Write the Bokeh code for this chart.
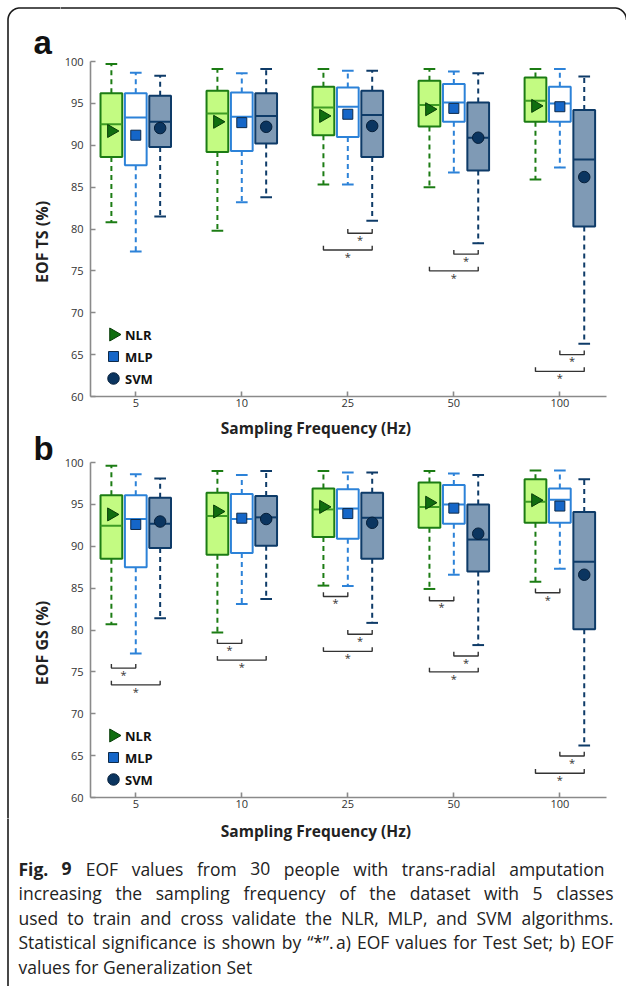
import numpy as np
from bokeh.plotting import figure
from bokeh.models import Range1d, FixedTicker, ColumnDataSource
from bokeh.layouts import column, row
from bokeh.embed import file_html
from bokeh.resources import INLINE
from bokeh.core.properties import value

# ---------------- data ----------------
FREQ_LABELS = ["5", "10", "25", "50", "100"]          # sampling frequency (Hz)
MODELS = ["NLR", "MLP", "SVM"]

# Panel a: EOF Test Set (%), one value per sampling frequency
TS_NLR = dict(hi=[99.7, 99.1, 99.1, 99.1, 99.1], q3=[96.2, 96.5, 97.0, 97.7, 98.1],
              med=[92.5, 93.8, 94.5, 94.8, 95.3], q1=[88.6, 89.2, 91.2, 92.25, 92.8],
              lo=[80.8, 79.8, 85.3, 85.0, 85.9], mean=[91.7, 92.8, 93.5, 94.3, 94.7])
TS_MLP = dict(hi=[98.65, 98.6, 98.9, 98.8, 99.1], q3=[96.2, 96.3, 96.9, 97.3, 97.0],
              med=[93.3, 93.4, 94.6, 95.1, 95.0], q1=[87.6, 89.3, 91.0, 92.8, 92.8],
              lo=[77.3, 83.2, 85.3, 86.75, 87.35], mean=[91.2, 92.7, 93.7, 94.4, 94.6])
TS_SVM = dict(hi=[98.3, 99.1, 98.9, 98.6, 98.2], q3=[95.9, 96.2, 96.5, 95.1, 94.2],
              med=[92.8, 93.5, 93.6, 90.9, 88.3], q1=[89.8, 90.2, 88.6, 87.0, 80.3],
              lo=[81.5, 83.8, 81.0, 78.3, 66.3], mean=[92.05, 92.2, 92.3, 90.9, 86.2])

# Panel b: EOF Generalization Set (%)
GS_NLR = dict(hi=[99.6, 99.0, 99.0, 99.0, 99.05], q3=[96.1, 96.4, 96.9, 97.6, 98.0],
              med=[92.45, 93.6, 94.4, 94.7, 95.3], q1=[88.5, 89.0, 91.1, 92.2, 92.8],
              lo=[80.7, 79.7, 85.3, 84.9, 85.75], mean=[93.8, 94.15, 94.7, 95.2, 95.5])
GS_MLP = dict(hi=[98.6, 98.5, 98.8, 98.7, 99.05], q3=[96.1, 96.25, 96.8, 97.3, 96.9],
              med=[93.25, 93.25, 94.5, 95.0, 95.55], q1=[87.5, 89.2, 90.9, 92.7, 92.8],
              lo=[77.2, 83.1, 85.25, 86.6, 87.3], mean=[92.6, 93.35, 93.9, 94.55, 94.8])
GS_SVM = dict(hi=[98.1, 99.0, 98.8, 98.5, 98.0], q3=[95.8, 96.0, 96.4, 95.0, 94.1],
              med=[92.7, 93.45, 93.4, 90.8, 88.15], q1=[89.8, 90.05, 88.5, 87.0, 80.1],
              lo=[81.4, 83.7, 80.85, 78.2, 66.2], mean=[92.95, 93.25, 92.8, 91.5, 86.6])

# significance brackets (frequency, from model, to model, bracket level in %)
TS_SIG_FREQ = ["25", "25", "50", "50", "100", "100"]
TS_SIG_FROM = ["MLP", "NLR", "MLP", "NLR", "MLP", "NLR"]
TS_SIG_TO = ["SVM", "SVM", "SVM", "SVM", "SVM", "SVM"]
TS_SIG_Y = [79.5, 77.5, 77.0, 75.0, 65.0, 63.0]

GS_SIG_FREQ = ["5", "5", "10", "10", "25", "25", "25", "50", "50", "50", "100", "100", "100"]
GS_SIG_FROM = ["NLR", "NLR", "NLR", "NLR", "NLR", "MLP", "NLR", "NLR", "MLP", "NLR", "NLR", "MLP", "NLR"]
GS_SIG_TO = ["MLP", "SVM", "MLP", "SVM", "MLP", "SVM", "SVM", "MLP", "SVM", "SVM", "MLP", "SVM", "SVM"]
GS_SIG_Y = [75.45, 73.45, 78.4, 76.4, 84.0, 79.5, 77.45, 83.5, 76.9, 75.0, 84.45, 64.95, 62.9]

Y_TICKS = [60, 65, 70, 75, 80, 85, 90, 95, 100]
X_LABEL = "Sampling Frequency (Hz)"
Y_LABELS = ["EOF TS (%)", "EOF GS (%)"]
PANEL_LETTERS = ["a", "b"]

CAPTION_BOLD = ["Fig.", "9"]
CAPTION_LINES = [
    "EOF values from 30 people with trans-radial amputation",
    "increasing the sampling frequency of the dataset with 5 classes",
    "used to train and cross validate the NLR, MLP, and SVM algorithms.",
    "Statistical significance is shown by \u201c*\u201d. a) EOF values for Test Set; b) EOF",
    "values for Generalization Set",
]

# ---------------- style / layout ----------------
STYLE = {
    "NLR": dict(fill="#c3fb82", line="#1c7c14", med="#3e9c24", whisk="#1c7c14",
                mfill="#106e10", mline="#073c07", marker="triangle", size=13, angle=-np.pi / 2),
    "MLP": dict(fill="#ffffff", line="#2c82d8", med="#2c82d8", whisk="#2c82d8",
                mfill="#1566c8", mline="#0d2a4a", marker="square", size=10, angle=0.0),
    "SVM": dict(fill="#7f9ab5", line="#0e3b68", med="#0e3b68", whisk="#0e3b68",
                mfill="#0b3560", mline="#061f3a", marker="circle", size=11.5, angle=0.0),
}
OFFSET = {"NLR": -0.23, "MLP": 0.0, "SVM": 0.23}
BOXW = 0.205
CAPW = 0.11
LW = 60                      # left column (letters, y titles, frame line)
MW = 566                     # main column (panels)
TW = LW + MW                 # total width
X0, X1 = 0.573, 5.44
BL = 30                      # panel left border -> frame starts at page x = 90
FRAME_W = 516
FRAME_H = 335
PXX = FRAME_W / (X1 - X0)
PXY = FRAME_H / 40.0
FONT = "Open Sans"
AXIS_GRAY = "#8a8a8a"
TXT = "#222222"
FRAME_COL = "#1a1a1a"

# vertical stack (page pixels)
H_TOP, H_A, H_MID, H_B, H_BOT = 54, 363, 38, 363, 168
Y_A = H_TOP
Y_MID = Y_A + H_A
Y_B = Y_MID + H_MID
Y_BOT = Y_B + H_B
H_ALL = Y_BOT + H_BOT
FRAME_TOP_A = Y_A + 7
FRAME_TOP_B = Y_B + 7

# Open Sans advance widths (units per em = 2048), used to justify the caption
OS_W = {" ": 532, ",": 502, ".": 545, ";": 545, "-": 659, "*": 1130, ")": 606, "(": 606,
        "\u201c": 502, "\u201d": 502, "0": 1171, "3": 1171, "5": 1171, "9": 1171,
        "A": 1296, "E": 1139, "F": 1057, "G": 1491, "L": 1063, "M": 1849, "N": 1544, "O": 1595,
        "P": 1233, "R": 1266, "S": 1124, "T": 1133, "V": 1219,
        "a": 1139, "b": 1255, "c": 975, "d": 1255, "e": 1149, "f": 694, "g": 1122, "h": 1257,
        "i": 518, "j": 518, "k": 1075, "l": 518, "m": 1905, "n": 1257, "o": 1237, "p": 1255,
        "q": 1255, "r": 836, "s": 977, "t": 723, "u": 1257, "v": 1026, "w": 1593, "x": 1073,
        "y": 1028, "z": 977}


def text_w(s, size, bold=False):
    return sum(OS_W.get(c, 1100) for c in s) / 2048 * size * (1.07 if bold else 1.0)


def band(px0, pw, py0, ph):
    """A figure whose frame is its whole canvas, in page-pixel coordinates (y downwards)."""
    b = figure(width=pw, height=ph, x_range=Range1d(px0, px0 + pw), y_range=Range1d(py0 + ph, py0),
               output_backend="svg", toolbar_location=None, min_border=0,
               x_axis_type=None, y_axis_type=None)
    b.outline_line_color = None
    b.xgrid.visible = False
    b.ygrid.visible = False
    return b


def frame_path(b):
    """Rounded page frame (top-left and top-right corners), in page pixels."""
    r, e = 12, 7.5
    t = np.linspace(0, np.pi / 2, 16)
    xs = [e] + list(e + r - r * np.cos(t)) + [TW - r] + list(TW - r + r * np.sin(t))
    ys = [H_ALL + 5] + list(e + r - r * np.sin(t)) + [e] + list(e + r - r * np.cos(t))
    b.line(x=xs, y=ys, line_color=FRAME_COL, line_width=1.6)


def make_panel(series, sig, height, btop):
    bbot = height - btop - FRAME_H
    p = figure(width=MW, height=height, x_range=Range1d(X0, X1), y_range=Range1d(60, 100),
               output_backend="svg", toolbar_location=None,
               min_border_left=BL, min_border_right=MW - BL - FRAME_W,
               min_border_top=btop, min_border_bottom=bbot)
    p.outline_line_color = None
    p.xgrid.visible = False
    p.ygrid.visible = False

    xs = np.arange(1, len(FREQ_LABELS) + 1)
    for m in MODELS:
        d = series[m]
        st = STYLE[m]
        pos = xs + OFFSET[m]
        src = ColumnDataSource(dict(x=pos, bl=pos - BOXW / 2, br=pos + BOXW / 2,
                                    cl=pos - CAPW / 2, cr=pos + CAPW / 2, **d))
        p.segment(x0="x", y0="q3", x1="x", y1="hi", source=src, line_color=st["whisk"],
                  line_width=2, line_dash="5 4")
        p.segment(x0="x", y0="q1", x1="x", y1="lo", source=src, line_color=st["whisk"],
                  line_width=2, line_dash="5 4")
        p.segment(x0="cl", y0="hi", x1="cr", y1="hi", source=src, line_color=st["whisk"], line_width=2)
        p.segment(x0="cl", y0="lo", x1="cr", y1="lo", source=src, line_color=st["whisk"], line_width=2)
        p.vbar(x="x", width=BOXW, bottom="q1", top="q3", source=src, fill_color=st["fill"],
               line_color=st["line"], line_width=2)
        p.segment(x0="bl", y0="med", x1="br", y1="med", source=src, line_color=st["med"], line_width=2)
        p.scatter(x="x", y="mean", source=src, marker=st["marker"], size=st["size"],
                  angle=st["angle"], fill_color=st["mfill"], line_color=st["mline"], line_width=1)

    # significance brackets
    freq, frm, to, ys = sig
    tick = 0.5
    bx, by, sx, sy = [], [], [], []
    for f, a, b, y in zip(freq, frm, to, ys):
        g = FREQ_LABELS.index(f) + 1
        xa, xb = g + OFFSET[a], g + OFFSET[b]
        bx.append([xa, xa, xb, xb])
        by.append([y + tick, y, y, y + tick])
        sx.append((xa + xb) / 2)
        sy.append(y - 0.75)
    p.multi_line(xs=bx, ys=by, line_color="#333333", line_width=1.4)
    p.text(x=sx, y=sy, text=["*"] * len(sx), text_align="center", text_baseline="middle",
           text_font=value(FONT), text_font_size="11px", text_color="#333333")

    # legend (drawn by hand so that the NLR triangle points right like the data markers)
    lx = X0 + 23 / PXX
    for i, m in enumerate(MODELS):
        st = STYLE[m]
        ly = 60 + (18 + 22 * (len(MODELS) - 1 - i)) / PXY
        p.scatter(x=[lx], y=[ly], marker=st["marker"], size=st["size"], angle=st["angle"],
                  fill_color=st["mfill"], line_color=st["mline"], line_width=1)
        p.text(x=[X0 + 34.5 / PXX], y=[ly], text=[m], text_baseline="middle",
               text_font=value(FONT), text_font_style="bold", text_font_size="13px",
               text_color="#111111")

    # axes
    p.xaxis.ticker = FixedTicker(ticks=list(xs))
    p.xaxis.major_label_overrides = {int(i): l for i, l in zip(xs, FREQ_LABELS)}
    p.yaxis.ticker = FixedTicker(ticks=Y_TICKS)
    for ax in (p.xaxis, p.yaxis):
        ax.axis_line_color = AXIS_GRAY
        ax.axis_line_width = 1.6
        ax.major_tick_line_color = AXIS_GRAY
        ax.major_tick_line_width = 1.6
        ax.major_tick_in = 5
        ax.major_tick_out = 0
        ax.minor_tick_line_color = None
        ax.major_label_text_font = FONT
        ax.major_label_text_font_size = "11px"
        ax.major_label_text_color = "#333333"
    p.xaxis.major_label_standoff = 2
    p.yaxis.major_label_standoff = 7
    return p


def xlabel(b, page_y):
    b.text(x=[315.4], y=[page_y], text=[X_LABEL], text_align="center", text_baseline="middle",
           text_font=value(FONT), text_font_style="bold", text_font_size="15.5px", text_color=TXT)


# left column: frame line, panel letters and the y-axis titles
left = band(0, LW, 0, Y_BOT)
frame_path(left)
left.text(x=[33, 33], y=[41.5, 447.5], text=PANEL_LETTERS, text_align="left",
          text_baseline="middle", text_font=value("Liberation Sans"),
          text_font_style="bold", text_font_size="33px", text_color="#111111")
left.text(x=[41, 41], y=[FRAME_TOP_A + FRAME_H / 2 + 13, FRAME_TOP_B + FRAME_H / 2 + 13],
          text=Y_LABELS, angle=np.pi / 2, text_align="center", text_baseline="middle",
          text_font=value(FONT), text_font_style="bold", text_font_size="16px", text_color=TXT)

top = band(LW, MW, 0, H_TOP)
frame_path(top)

pa = make_panel({"NLR": TS_NLR, "MLP": TS_MLP, "SVM": TS_SVM},
                (TS_SIG_FREQ, TS_SIG_FROM, TS_SIG_TO, TS_SIG_Y), H_A, 7)

mid = band(LW, MW, Y_MID, H_MID)
xlabel(mid, 427.5)

pb = make_panel({"NLR": GS_NLR, "MLP": GS_MLP, "SVM": GS_SVM},
                (GS_SIG_FREQ, GS_SIG_FROM, GS_SIG_TO, GS_SIG_Y), H_B, 7)

bot = band(0, TW, Y_BOT, H_BOT)
frame_path(bot)
xlabel(bot, 830)

# caption, justified word by word like the journal layout
CAP_SIZE = 17.5
cap_x0 = 18
cap_right = [604, 613, 613, 613, None]
words_n, wx_n, wy_n, words_b, wx_b, wy_b = [], [], [], [], [], []
for li, line in enumerate(CAPTION_LINES):
    ly = 868 + 24.5 * li
    words = [(w, True) for w in CAPTION_BOLD] if li == 0 else []
    words += [(w, False) for w in line.split(" ")]
    widths = [text_w(w, CAP_SIZE, bold) for w, bold in words]
    if cap_right[li] is None:
        gap = text_w(" ", CAP_SIZE)
    else:
        gap = (cap_right[li] - cap_x0 - sum(widths)) / (len(words) - 1)
    x = cap_x0
    for (w, bold), wd in zip(words, widths):
        if bold:
            words_b.append(w); wx_b.append(x); wy_b.append(ly)
        else:
            words_n.append(w); wx_n.append(x); wy_n.append(ly)
        x += wd + gap

bot.text(x=wx_b, y=wy_b, text=words_b, text_baseline="middle", text_font=value(FONT),
         text_font_style="bold", text_font_size=f"{CAP_SIZE}px", text_color=TXT)
bot.text(x=wx_n, y=wy_n, text=words_n, text_baseline="middle", text_font=value(FONT),
         text_font_size=f"{CAP_SIZE}px", text_color=TXT)

upper = row(column(left), column(column(top), column(pa), column(mid), column(pb)), spacing=0)
layout = column(upper, column(bot), spacing=0)

with open("out.html", "w") as fh:
    fh.write(file_html(layout, INLINE))
